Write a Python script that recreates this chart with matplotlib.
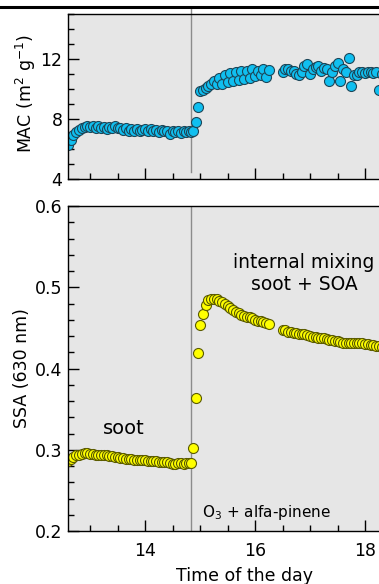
import matplotlib
matplotlib.use("Agg")
import matplotlib.pyplot as plt
from matplotlib.ticker import MultipleLocator
from matplotlib.lines import Line2D

# time of the day (h)
time_h = [
    12.60, 12.65, 12.70, 12.75, 12.80, 12.85, 12.90, 12.95, 13.00, 13.05,
    13.10, 13.15, 13.20, 13.25, 13.30, 13.35, 13.40, 13.45, 13.50, 13.55,
    13.60, 13.65, 13.70, 13.75, 13.80, 13.85, 13.90, 13.95, 14.00, 14.05,
    14.10, 14.15, 14.20, 14.25, 14.30, 14.35, 14.40, 14.45, 14.50, 14.55,
    14.60, 14.65, 14.70, 14.75, 14.80,
    14.84, 14.88, 14.92, 14.96, 15.00,
    15.05, 15.10, 15.15, 15.20, 15.25, 15.30, 15.35, 15.40, 15.45, 15.50,
    15.55, 15.60, 15.65, 15.70, 15.75, 15.80, 15.85, 15.90, 15.95, 16.00,
    16.05, 16.10, 16.15, 16.20, 16.25,
    16.50, 16.55, 16.60, 16.65, 16.70, 16.75, 16.80, 16.85, 16.90, 16.95,
    17.00, 17.05, 17.10, 17.15, 17.20, 17.25, 17.30, 17.35, 17.40, 17.45,
    17.50, 17.55, 17.60, 17.65, 17.70, 17.75, 17.80, 17.85, 17.90, 17.95,
    18.00, 18.05, 18.10, 18.15, 18.20, 18.25, 18.30, 18.35,
]

# mass absorption cross section (m2 g-1)
mac = [
    6.25, 6.6, 6.9, 7.1, 7.27, 7.4, 7.45, 7.5, 7.45, 7.5,
    7.4, 7.5, 7.35, 7.45, 7.3, 7.45, 7.4, 7.5, 7.35, 7.4,
    7.25, 7.35, 7.2, 7.3, 7.15, 7.3, 7.2, 7.25, 7.3, 7.15,
    7.3, 7.2, 7.25, 7.1, 7.25, 7.15, 7.2, 7.0, 7.2, 7.1,
    7.15, 7.05, 7.2, 7.1, 7.15,
    7.1, 7.2, 7.78, 8.77, 9.85,
    9.95, 10.05, 10.2, 10.35, 10.55, 10.3, 10.75, 10.35, 10.9, 10.45,
    11.05, 10.55, 11.1, 10.6, 11.2, 10.65, 11.2, 10.7, 11.3, 10.85,
    11.2, 10.95, 11.3, 10.8, 11.25,
    11.1, 11.3, 11.3, 11.2, 11.2, 11.0, 10.9, 11.1, 11.5, 11.65,
    11.0, 11.3, 11.45, 11.55, 11.2, 11.4, 11.3, 10.55, 11.1, 11.5,
    11.75, 10.55, 11.3, 11.1, 12.05, 10.2, 10.9, 10.95, 11.1, 11.15,
    11.05, 11.1, 11.15, 11.05, 11.1, 9.9, 11.0, 11.1,
]

# single scattering albedo at 630 nm
ssa = [
    0.286, 0.289, 0.291, 0.293, 0.294, 0.295, 0.296, 0.296, 0.295, 0.295,
    0.294, 0.294, 0.293, 0.293, 0.293, 0.292, 0.292, 0.291, 0.291, 0.290,
    0.290, 0.289, 0.289, 0.289, 0.288, 0.288, 0.287, 0.287, 0.287, 0.286,
    0.286, 0.286, 0.286, 0.285, 0.285, 0.285, 0.285, 0.284, 0.283, 0.283,
    0.284, 0.284, 0.283, 0.284, 0.284,
    0.284, 0.302, 0.364, 0.419, 0.454,
    0.467, 0.478, 0.484, 0.486, 0.486, 0.485, 0.483, 0.482, 0.480, 0.477,
    0.475, 0.472, 0.470, 0.468, 0.466, 0.465, 0.464, 0.463, 0.462, 0.460,
    0.459, 0.458, 0.457, 0.456, 0.455,
    0.448, 0.447, 0.445, 0.445, 0.444, 0.444, 0.443, 0.443, 0.442, 0.441,
    0.440, 0.439, 0.439, 0.438, 0.437, 0.437, 0.436, 0.435, 0.435, 0.434,
    0.434, 0.433, 0.432, 0.432, 0.431, 0.431, 0.431, 0.432, 0.432, 0.431,
    0.430, 0.430, 0.429, 0.429, 0.428, 0.428, 0.427, 0.427,
]

ozone_start = 14.83

plt.rcParams['font.family'] = 'DejaVu Sans'
plt.rcParams['font.size'] = 12.5

W, H = 379, 584
fig = plt.figure(figsize=(W / 100, H / 100), dpi=100)

def px_axes(left, top, right, bottom):
    return fig.add_axes([left / W, 1 - bottom / H, (right - left) / W, (bottom - top) / H])

ax1 = px_axes(68, 14, 420, 178.5)
ax2 = px_axes(68, 206, 420, 531)

for ax in (ax1, ax2):
    ax.set_facecolor('#e6e6e6')
    ax.set_xlim(12.6, 19.0)
    ax.xaxis.set_major_locator(MultipleLocator(2))
    ax.xaxis.set_minor_locator(MultipleLocator(0.5))
    ax.tick_params(which='both', direction='in', top=False, right=False, width=1.0)
    ax.tick_params(which='major', length=8, labelsize=12.5)
    ax.tick_params(which='minor', length=4)
    ax.tick_params(axis='y', pad=4)
    ax.tick_params(axis='x', pad=8)
    for s in ax.spines.values():
        s.set_linewidth(1.0)

# MAC panel
ax1.plot(time_h, mac, 'o', ms=7.2, mfc='#10bff0', mec='#1d4658', mew=0.8)
ax1.set_ylim(4, 15)
ax1.yaxis.set_major_locator(MultipleLocator(4))
ax1.yaxis.set_minor_locator(MultipleLocator(1))
ax1.tick_params(axis='x', labelbottom=False)
ax1.set_ylabel('MAC (m$^2$ g$^{-1}$)')
ax1.yaxis.set_label_coords(-0.085, 0.514)
ax1.axvline(ozone_start, ymin=0.04, ymax=1.036, color='#8c8c8c', lw=1.0, clip_on=False, zorder=0.5)

# SSA panel
ax2.plot(time_h, ssa, 'o', ms=7.2, mfc='#ffff00', mec='#5a5a00', mew=0.8)
ax2.set_ylim(0.2, 0.6)
ax2.yaxis.set_major_locator(MultipleLocator(0.1))
ax2.yaxis.set_minor_locator(MultipleLocator(0.02))
ax2.set_ylabel('SSA (630 nm)')
ax2.yaxis.set_label_coords(-0.105, 0.5)
ax2.set_xlabel('Time of the day', labelpad=5)
ax2.axvline(ozone_start, color='#8c8c8c', lw=1.0, zorder=0.5)

ax2.text(16.89, 0.517, 'internal mixing\nsoot + SOA', ha='center', va='center',
         multialignment='center', fontsize=13.5, linespacing=1.25)
ax2.text(13.62, 0.320, 'soot', ha='center', va='baseline', fontsize=14)
ax2.text(15.04, 0.2167, 'O$_3$ + alfa-pinene', ha='left', va='baseline', fontsize=11)

# black rule along the top
fig.add_artist(Line2D([0, 1], [1 - 6.5 / H, 1 - 6.5 / H], transform=fig.transFigure,
                      color='black', lw=2.2))

fig.savefig('out.png', dpi=100)
